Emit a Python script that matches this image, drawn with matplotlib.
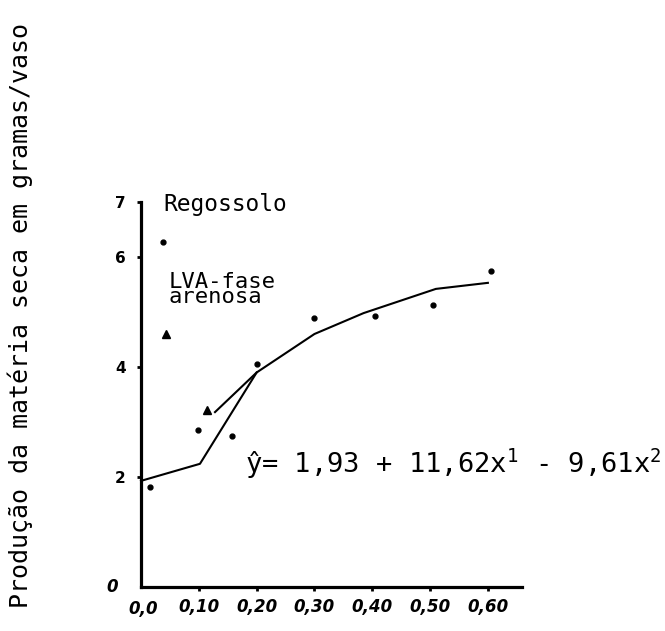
import matplotlib
matplotlib.use('Agg')
import matplotlib.pyplot as plt

mono = 'DejaVu Sans Mono'
plt.rcParams['mathtext.fontset'] = 'custom'
plt.rcParams['mathtext.rm'] = mono
plt.rcParams['mathtext.it'] = mono

# observed points (dots)
dot_x = [0.016, 0.038, 0.099, 0.157, 0.20, 0.30, 0.405, 0.505, 0.605]
dot_y = [1.82, 6.27, 2.85, 2.75, 4.05, 4.89, 4.93, 5.13, 5.75]
# observed points (triangles)
tri_x = [0.044, 0.114]
tri_y = [4.60, 3.22]
# fitted lines
lineA_x = [0.0, 0.102, 0.20]
lineA_y = [1.93, 2.24, 3.90]
lineB_x = [0.128, 0.20, 0.30, 0.385, 0.51, 0.60]
lineB_y = [3.18, 3.90, 4.60, 4.98, 5.42, 5.53]

xticks = [0.1, 0.2, 0.3, 0.4, 0.5, 0.6]
xlabels = ['0,10', '0,20', '0,30', '0,40', '0,50', '0,60']
yticks = [2, 4, 6, 7]

fig = plt.figure(figsize=(6.65, 6.31), dpi=100)
ax = fig.add_axes([141 / 665, 44 / 631, 381 / 665, 385 / 631])

ax.plot(lineA_x, lineA_y, color='k', lw=1.5, clip_on=False)
ax.plot(lineB_x, lineB_y, color='k', lw=1.5, clip_on=False)
ax.plot(dot_x, dot_y, 'o', color='k', ms=3.5, clip_on=False)
ax.plot(tri_x, tri_y, '^', color='k', ms=6, clip_on=False)

ax.set_xlim(0, 0.659)
ax.set_ylim(0, 7)
for s in ['top', 'right']:
    ax.spines[s].set_visible(False)
for s in ['left', 'bottom']:
    ax.spines[s].set_linewidth(2.3)

ax.set_xticks(xticks)
ax.set_xticklabels(xlabels, fontsize=12, style='italic', weight='bold',
                   family='DejaVu Sans')
ax.set_yticks(yticks)
ax.set_yticklabels([str(t) for t in yticks], fontsize=11, weight='bold',
                   family='DejaVu Sans')
ax.tick_params(axis='both', length=3, width=2, direction='out')
ax.tick_params(axis='y', pad=8)
ax.tick_params(axis='x', pad=5)

# origin labels
ax.text(-0.04, 0, '0', fontsize=12, style='italic', weight='bold',
        family='DejaVu Sans', ha='right', va='center', clip_on=False)
ax.text(0.003, -0.24, '0,0', fontsize=12, style='italic', weight='bold',
        family='DejaVu Sans', ha='center', va='top', clip_on=False)

ax.text(0.038, 6.84, 'Regossolo', fontsize=16.5, family=mono, va='baseline')
ax.text(0.047, 5.16, 'LVA-fase\narenosa', fontsize=16, family=mono,
        va='baseline', linespacing=0.7)
ax.text(0.18, 2.07, 'ŷ= 1,93 + 11,62x$^{1}$ - 9,61x$^{2}$', fontsize=19.5,
        family=mono, va='baseline', clip_on=False)

fig.text(20 / 665, 1 - 315 / 631, 'Produção da matéria seca em gramas/vaso',
         rotation=90, fontsize=18, family=mono, ha='center', va='center')

fig.savefig('out.png', dpi=100)
